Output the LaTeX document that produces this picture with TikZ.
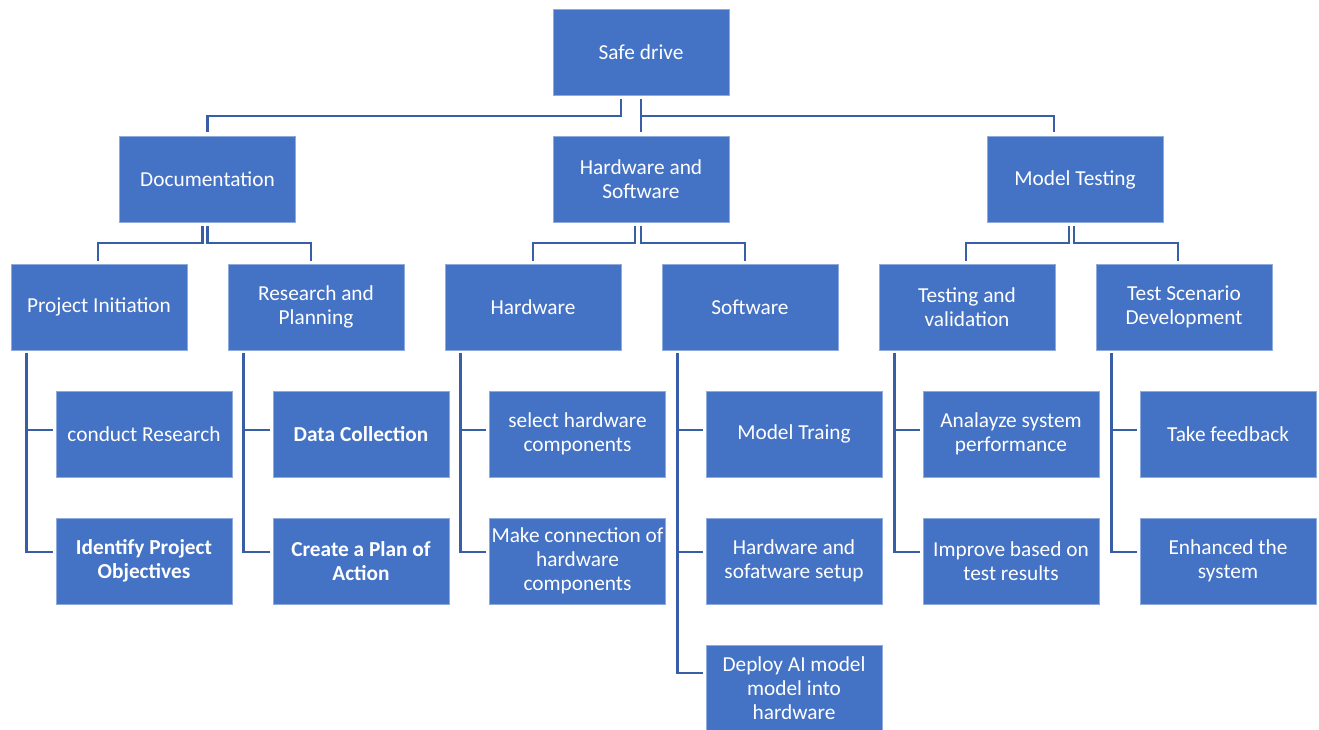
\documentclass[tikz,border=0pt]{standalone}
\usepackage{fontspec}
\setmainfont{Carlito}
\definecolor{boxblue}{RGB}{68,114,196}
\definecolor{boxedge}{RGB}{143,170,220}
\definecolor{linkblue}{RGB}{56,94,168}
\begin{document}
\begin{tikzpicture}[x=0.75pt,y=-0.75pt,
  box/.style={fill=boxblue,draw=boxedge,line width=0.6pt,text=white,
    minimum width=132pt,minimum height=64.5pt,inner xsep=0pt,inner ysep=2pt,align=center,
    font=\fontsize{16}{18}\selectfont},
  boldbox/.style={box,font=\fontsize{16}{18}\selectfont\bfseries},
  link/.style={draw=linkblue,line width=1.9pt}]
  \useasboundingbox (0,0) rectangle (1319,730);
  % top and second level
  \node[box] (sd) at (641,52.5) {Safe drive};
  \node[box] (doc) at (207.5,179.5) {Documentation};
  \node[box] (hs) at (641,179.5) {Hardware and\\Software};
  \node[box] (mt) at (1075,179.5) {Model Testing};
  % third level
  \node[box] (pi) at (99,307) {Project Initiation};
  \node[box] (rp) at (316,307) {Research and\\Planning};
  \node[box] (hw) at (533,307) {Hardware};
  \node[box] (sw) at (750,307) {Software};
  \node[box] (tv) at (967,307) {Testing and\\validation};
  \node[box] (ts) at (1184,307) {Test Scenario\\Development};
  % leaves
  \node[box] (cr) at (144,434) {conduct Research};
  \node[boldbox] (ip) at (144,561) {Identify Project\\Objectives};
  \node[boldbox] (dc) at (361,434) {Data Collection};
  \node[boldbox] (cp) at (361,561) {Create a Plan of\\Action};
  \node[box] (sh) at (577.5,434) {select hardware\\components};
  \node[box] (mc) at (577.5,561) {Make connection of\\hardware\\components};
  \node[box] (mtr) at (794,434) {Model Traing};
  \node[box] (hss) at (794,561) {Hardware and\\sofatware setup};
  \node[box] (dp) at (794,688) {Deploy AI model\\model into\\hardware};
  \node[box] (as) at (1011,434) {Analayze system\\performance};
  \node[box] (ib) at (1011,561) {Improve based on\\test results};
  \node[box] (tf) at (1228,434) {Take feedback};
  \node[box] (es) at (1228,561) {Enhanced the\\system};
  % connectors, level 1 to 2
  \draw[link] ([shift={(-20,3)}]sd.south) -- ++(0,17) -| ([shift={(0,-4)}]doc.north);
  \draw[link] ([shift={(0,3)}]sd.south) -- ([shift={(0,-4)}]hs.north);
  \draw[link] ([shift={(0,20)}]sd.south) -| ([shift={(-21,-4)}]mt.north);
  % level 2 to 3
  \draw[link] ([shift={(-5,3)}]doc.south) -- ++(0,17) -| ([shift={(-1,-3)}]pi.north);
  \draw[link] ([shift={(0,3)}]doc.south) -- ++(0,17) -| ([shift={(-5,-3)}]rp.north);
  \draw[link] ([shift={(-6,3)}]hs.south) -- ++(0,17) -| ([shift={(0,-3)}]hw.north);
  \draw[link] ([shift={(0,3)}]hs.south) -- ++(0,17) -| ([shift={(-5,-3)}]sw.north);
  \draw[link] ([shift={(-6,3)}]mt.south) -- ++(0,17) -| ([shift={(-1,-3)}]tv.north);
  \draw[link] ([shift={(-1,3)}]mt.south) -- ++(0,17) -| ([shift={(-6,-3)}]ts.north);
  % level 3 to leaves
  \foreach \p/\a/\b in {pi/cr/ip, rp/dc/cp, hw/sh/mc, sw/mtr/hss, tv/as/ib, ts/tf/es} {
    \draw[link] ([shift={(16,3)}]\p.south west) |- ([shift={(-3,-9)}]\b.west);
    \draw[link] ([shift={(-3,-4)}]\a.west) -- ++(-27,0);
  }
  \draw[link] ([shift={(16,3)}]sw.south west) |- ([shift={(-3,-15)}]dp.west);
\end{tikzpicture}
\end{document}
